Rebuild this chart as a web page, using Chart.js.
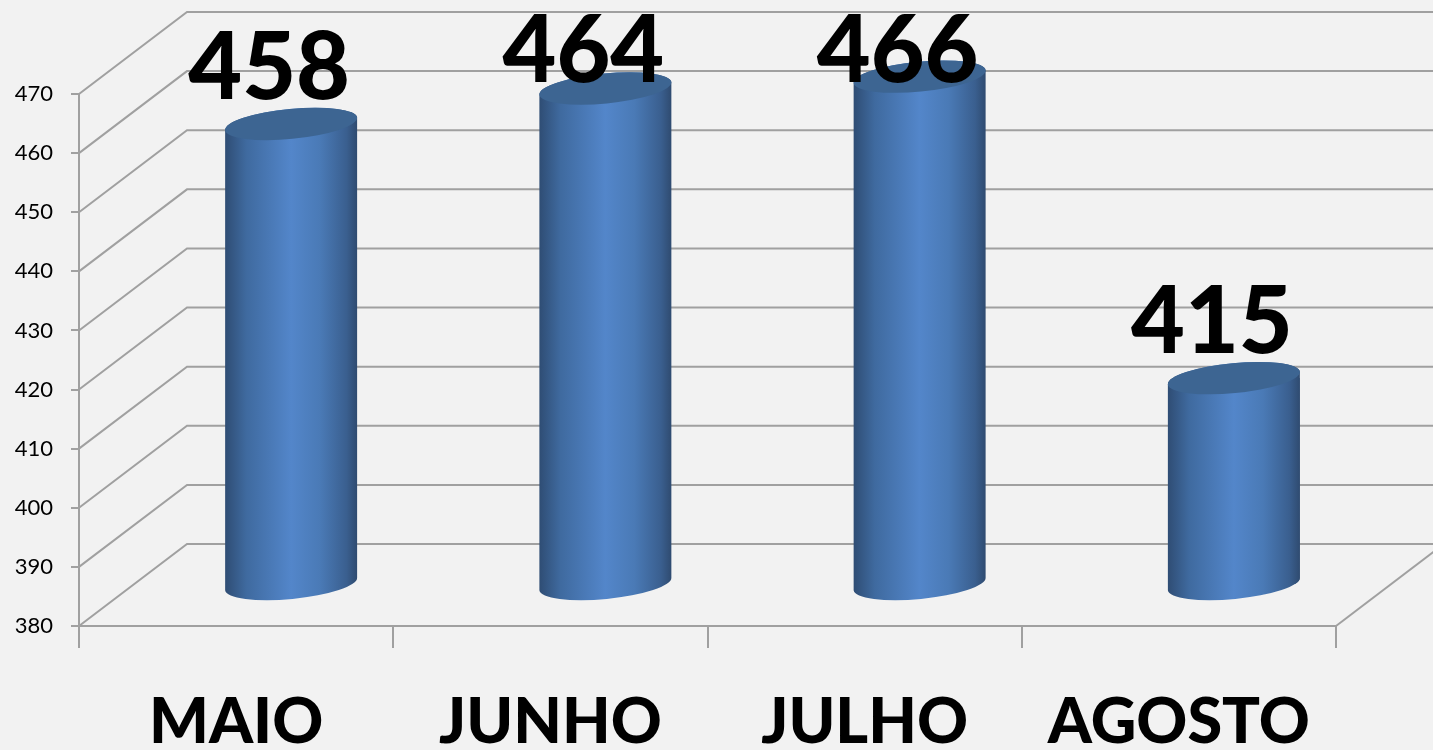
<!DOCTYPE html>
<html>
<head>
<meta charset="utf-8">
<title>Meses</title>
<script src="https://cdn.jsdelivr.net/npm/chart.js@4/dist/chart.umd.min.js"></script>
<style>
    html, body { margin: 0; padding: 0; background: #f2f2f2; overflow: hidden; }
    canvas { display: block; }
</style>
</head>
<body>
<canvas id="graficoMeses" width="1433" height="750"></canvas>
<script>
const meses = ["MAIO", "JUNHO", "JULHO", "AGOSTO"];
const valores = [458, 464, 466, 415];
const eixoMin = 380;
const eixoMax = 470;
const eixoPasso = 10;

const corGrade = "#a0a0a0";
const profX = 108;   // depth of the 3D box
const profY = 82;
const raioTampa = 15;
const giroTampa = -5.5 * Math.PI / 180;

// the cylinders stand halfway into the box
function entrarCaixa(ctx) {
    ctx.translate(profX / 2 + 1, -profY / 2);
}

function cilindro(ctx, bar) {
    let rx = bar.width / 2 + 0.3;
    ctx.beginPath();
    ctx.ellipse(bar.x, bar.y, rx, raioTampa, giroTampa, Math.PI, 2 * Math.PI);
    ctx.ellipse(bar.x, bar.base, rx, raioTampa, giroTampa, 0, Math.PI);
    ctx.closePath();
}

function gradienteBarra(ctx, x, largura) {
    let g = ctx.createLinearGradient(x - largura / 2, 0, x + largura / 2, 0);
    g.addColorStop(0, "#2f4d74");
    g.addColorStop(0.16, "#3f6a9f");
    g.addColorStop(0.5, "#5386ca");
    g.addColorStop(0.72, "#4a7ab6");
    g.addColorStop(0.92, "#3a5f8f");
    g.addColorStop(1, "#2f4b70");
    return g;
}

const caixa3d = {
    id: "caixa3d",
    beforeDatasetsDraw(chart) {
        let ctx = chart.ctx;
        let y = chart.scales.y;
        let x = chart.scales.x;
        let esq = x.left;
        ctx.save();
        ctx.strokeStyle = corGrade;
        ctx.lineWidth = 2;
        y.ticks.forEach((t) => {
            let py = y.getPixelForValue(t.value);
            ctx.beginPath();
            ctx.moveTo(esq, py);
            ctx.lineTo(esq + profX, py - profY);
            ctx.lineTo(chart.width + 5, py - profY);
            ctx.stroke();
        });
        ctx.beginPath();
        ctx.moveTo(x.right, y.bottom);
        ctx.lineTo(x.right + profX, y.bottom - profY);
        ctx.stroke();
        ctx.restore();
    },
    beforeDatasetDraw(chart, args) {
        let ctx = chart.ctx;
        ctx.save();
        entrarCaixa(ctx);
        ctx.beginPath();
        args.meta.data.forEach((bar) => {
            cilindro(ctx, bar);
        });
        ctx.clip();
    },
    afterDatasetDraw(chart) {
        chart.ctx.restore();
    },
    afterDatasetsDraw(chart) {
        let ctx = chart.ctx;
        let barras = chart.getDatasetMeta(0).data;
        ctx.save();
        entrarCaixa(ctx);
        barras.forEach((bar) => {
            cilindro(ctx, bar);
            ctx.fillStyle = gradienteBarra(ctx, bar.x, bar.width);
            ctx.fill();
            ctx.beginPath();
            ctx.ellipse(bar.x, bar.y, bar.width / 2 + 0.3, raioTampa, giroTampa, 0, 2 * Math.PI);
            ctx.fillStyle = "#3d6592";
            ctx.fill();
        });
        ctx.font = "900 93px Lato";
        ctx.textAlign = "center";
        ctx.textBaseline = "alphabetic";
        ctx.fillStyle = "#000000";
        barras.forEach((bar, i) => {
            // labels are pushed down when they would leave the picture
            let base = Math.max(bar.y - 25, 123);
            ctx.fillText(String(valores[i]), bar.x - 22, base);
        });
        ctx.restore();
    }
};

const ctx = document.getElementById("graficoMeses");

new Chart(ctx, {
    type: "bar",
    data: {
        labels: meses,
        datasets: [{
            data: valores,
            base: eixoMin,
            barPercentage: 0.42,
            categoryPercentage: 1,
            backgroundColor: function(context) {
                let chart = context.chart;
                if (!chart.chartArea) {
                    return "#4a7ab6";
                }
                let x = chart.scales.x.getPixelForValue(context.dataIndex);
                return gradienteBarra(chart.ctx, x, 132);
            }
        }]
    },
    options: {
        responsive: false,
        animation: false,
        layout: { padding: { left: 0, right: 97, top: 94, bottom: 0 } },
        plugins: {
            legend: { display: false },
            tooltip: { enabled: false }
        },
        scales: {
            x: {
                afterFit(scale) { scale.height = 124; },
                border: { display: true, color: corGrade, width: 2 },
                grid: { drawOnChartArea: false, drawTicks: true, tickLength: 22, color: corGrade, lineWidth: 2 },
                ticks: {
                    color: "#000000",
                    padding: 37,
                    maxRotation: 0,
                    autoSkip: false,
                    font: { family: "Lato", size: 63, weight: "900" }
                }
            },
            y: {
                min: eixoMin,
                max: eixoMax,
                afterFit(scale) { scale.width = 79; },
                border: { display: true, color: corGrade, width: 2 },
                grid: { drawOnChartArea: false, drawTicks: true, tickLength: 8, color: corGrade, lineWidth: 2 },
                ticks: {
                    stepSize: eixoPasso,
                    color: "#000000",
                    padding: 18,
                    font: { family: "Lato", size: 22 }
                }
            }
        }
    },
    plugins: [caixa3d]
});
</script>
</body>
</html>
